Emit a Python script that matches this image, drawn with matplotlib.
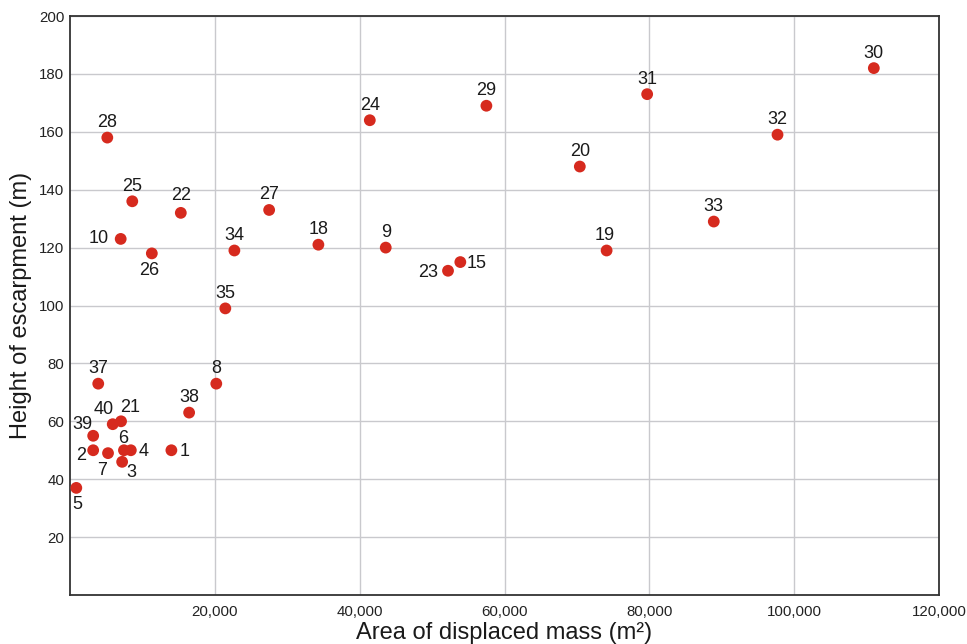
import matplotlib
matplotlib.use("Agg")
import matplotlib.pyplot as plt
from matplotlib.ticker import FuncFormatter

# ---- data ----
site_ids = [1, 2, 3, 4, 5, 6, 7, 8, 9, 10, 15, 18, 19, 20, 21, 22, 23, 24, 25, 26,
            27, 28, 29, 30, 31, 32, 33, 34, 35, 37, 38, 39, 40]
area_m2 = [14000, 3200, 7200, 8400, 870, 7450, 5250, 20200, 43600, 7000, 53900, 34300,
           74100, 70400, 7050, 15300, 52200, 41400, 8600, 11300,
           27500, 5150, 57500, 111000, 79700, 97700, 88900, 22700, 21450, 3900, 16450, 3200, 5900]
height_m = [50, 50, 46, 50, 37, 50, 49, 73, 120, 123, 115, 121,
            119, 148, 60, 132, 112, 164, 136, 118,
            133, 158, 169, 182, 173, 159, 129, 119, 99, 73, 63, 55, 59]
x_ticks = [20000, 40000, 60000, 80000, 100000, 120000]
y_ticks = [20, 40, 60, 80, 100, 120, 140, 160, 180, 200]

# ---- label placement (pixel offsets dx, dy; ha) ----
default_off = (0, 15, "center")
label_off = {
    10: (-12, 0, "right"),
    26: (-3, -17, "center"),
    23: (-10, -2, "right"),
    15: (6, -1, "left"),
    19: (-2, 15, "center"),
    40: (-9, 15, "center"),
    21: (9, 14, "center"),
    39: (-11, 11, "center"),
    2: (-12, -5, "center"),
    7: (-6, -17, "center"),
    6: (-1, 12, "center"),
    4: (8, -1, "left"),
    3: (9, -11, "center"),
    1: (8, -1, "left"),
    5: (1, -17, "center"),
    22: (0, 17, "center"),
}

plt.rcParams['font.family'] = ['Liberation Sans', 'DejaVu Sans']

fig = plt.figure(figsize=(9.67, 6.44), dpi=100)
ax = fig.add_axes([70 / 967, 1 - 595 / 644, (939 - 70) / 967, (595 - 16) / 644])

ax.scatter(area_m2, height_m, s=72, color="#d62a1e", edgecolors="none", zorder=3)

for sid, xv, yv in zip(site_ids, area_m2, height_m):
    dx, dy, ha = label_off.get(sid, default_off)
    ax.annotate(str(sid), (xv, yv), xytext=(dx, dy), textcoords="offset pixels",
                ha=ha, va="center", fontsize=13, color="#1a1a1a", zorder=4)

ax.set_xlim(0, 120000)
ax.set_ylim(0, 200)
ax.set_xticks(x_ticks)
ax.set_yticks(y_ticks)
ax.xaxis.set_major_formatter(FuncFormatter(lambda v, p: f"{int(v):,}"))
ax.tick_params(axis="both", length=0, labelsize=10.8, colors="#222222")
ax.tick_params(axis="x", pad=7)
ax.tick_params(axis="y", pad=4)

ax.grid(True, color="#c9c9cd", linewidth=1.0, zorder=0)
ax.set_axisbelow(True)
for sp in ax.spines.values():
    sp.set_color("#333333")
    sp.set_linewidth(1.3)

ax.set_xlabel("Area of displaced mass (m²)", fontsize=17, color="#1a1a1a", labelpad=2)
ax.set_ylabel("Height of escarpment (m)", fontsize=17, color="#1a1a1a", labelpad=5)

fig.savefig("out.png", dpi=100)
